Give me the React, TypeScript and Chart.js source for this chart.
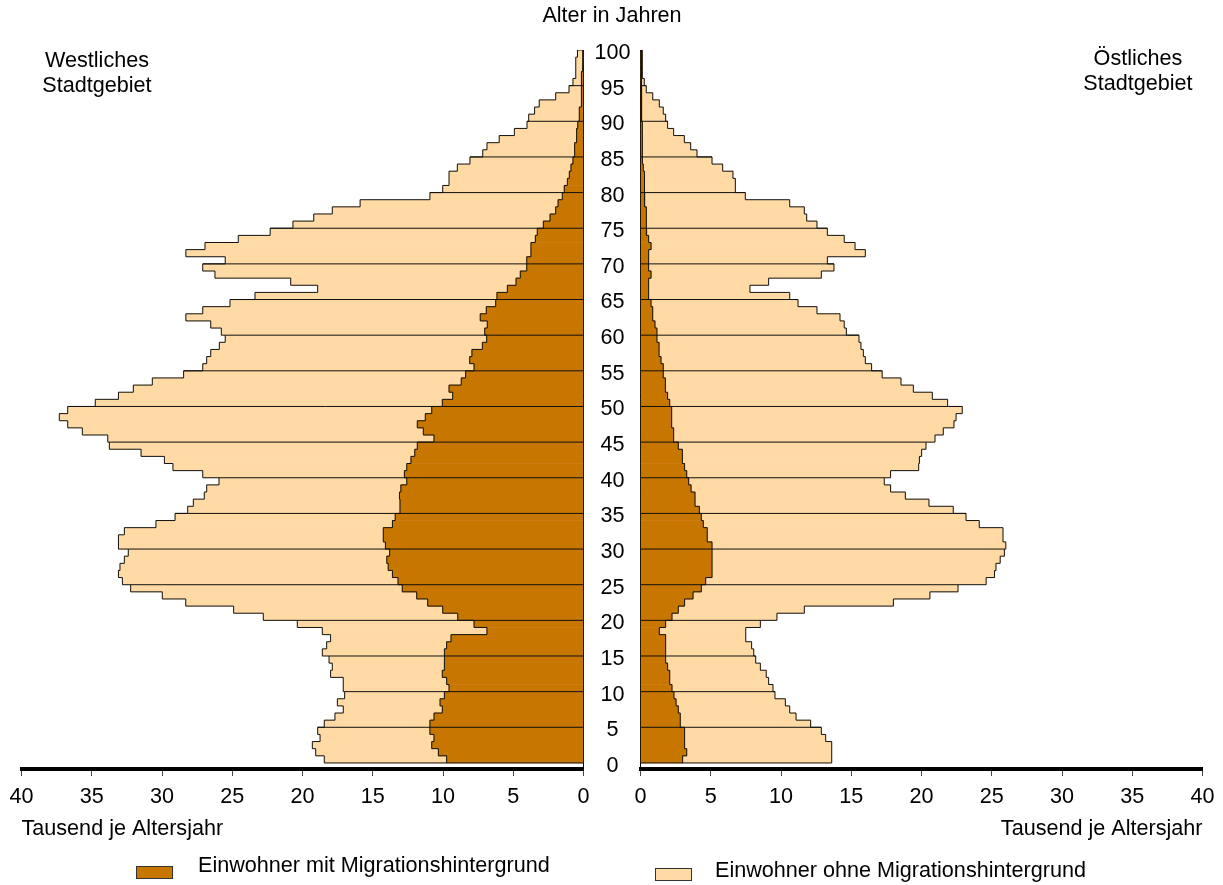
import React, { useEffect, useRef } from "react";
import { Chart, registerables } from "chart.js";

Chart.register(...registerables);

// ---------- data (Tausend Einwohner je Altersjahr, Alter 0 .. 99) ----------
const AGES: number[] = Array.from({ length: 100 }, (_, i) => i);
const AGE_TICKS: number[] = [0, 5, 10, 15, 20, 25, 30, 35, 40, 45, 50, 55, 60, 65, 70, 75, 80, 85, 90, 95, 100];
const VALUE_TICKS: number[] = [0, 5, 10, 15, 20, 25, 30, 35, 40];

// Westliches Stadtgebiet: total population per age
const WEST_TOTAL: number[] = [
  18.45, 19.06, 19.3, 18.75, 18.92,
  18.45, 17.69, 17.1, 17.52, 17.0,
  17.1, 17.1, 18.0, 17.88, 18.11,
  18.59, 18.28, 18.0, 18.59, 20.37,
  22.79, 24.9, 28.31, 29.98, 32.23,
  32.82, 33.1, 32.99, 32.68, 32.4,
  33.1, 33.1, 32.68, 30.43, 29.07,
  28.17, 27.77, 26.99, 26.82, 25.94,
  27.1, 29.22, 29.83, 31.49, 33.75,
  33.86, 35.67, 36.71, 37.31, 36.71,
  34.75, 33.1, 32.04, 30.69, 28.46,
  27.1, 26.82, 26.53, 25.92, 25.5,
  25.78, 26.53, 28.3, 27.1, 25.16,
  23.38, 18.92, 20.84, 26.23, 27.1,
  25.5, 28.3, 26.94, 24.57, 22.3,
  20.68, 19.2, 17.88, 15.9, 10.93,
  10.02, 9.57, 9.57, 8.98, 8.08,
  7.17, 6.87, 6.0, 4.92, 4.02,
  3.9, 3.48, 3.15, 1.98, 1.03,
  0.75, 0.55, 0.55, 0.55, 0.43,
];

// Westliches Stadtgebiet: Einwohner mit Migrationshintergrund
const WEST_MIT: number[] = [
  9.74, 10.33, 10.8, 10.64, 10.93,
  10.93, 10.64, 10.05, 10.21, 9.9,
  9.57, 9.74, 10.05, 9.9, 9.9,
  9.9, 9.74, 9.43, 6.87, 7.79,
  8.95, 10.02, 11.09, 11.87, 12.9,
  13.2, 13.6, 13.9, 14.0, 13.8,
  14.1, 14.25, 14.25, 13.6, 13.4,
  13.06, 13.06, 13.1, 13.0, 12.58,
  12.75, 12.58, 12.28, 12.01, 11.83,
  10.64, 11.4, 11.83, 11.26, 10.8,
  10.05, 9.31, 9.57, 8.7, 8.39,
  7.79, 8.1, 7.94, 7.2, 6.89,
  7.03, 6.85, 7.35, 6.92, 6.25,
  6.16, 5.42, 4.8, 4.5, 4.04,
  4.04, 3.74, 3.74, 3.43, 3.29,
  2.86, 2.38, 1.98, 1.81, 1.51,
  1.37, 1.15, 1.01, 0.89, 0.75,
  0.63, 0.63, 0.49, 0.49, 0.41,
  0.3, 0.3, 0.15, 0.15, 0.15,
  0.15, 0.15, 0.08, 0.05, 0.05,
];

// Östliches Stadtgebiet: total population per age
const EAST_TOTAL: number[] = [
  13.61, 13.61, 13.61, 13.18, 12.87,
  12.11, 11.07, 10.62, 10.31, 9.57,
  9.43, 9.12, 8.95, 8.53, 8.2,
  8.06, 7.91, 7.49, 7.49, 8.53,
  9.71, 11.66, 18.0, 20.6, 22.6,
  24.6, 25.2, 25.3, 25.6, 25.9,
  26.0, 25.8, 25.8, 24.11, 23.17,
  22.26, 20.53, 18.85, 17.8, 17.35,
  17.8, 19.8, 19.85, 20.01, 20.32,
  20.96, 21.55, 22.31, 22.46, 22.9,
  21.86, 20.77, 19.42, 18.54, 17.2,
  16.45, 16.0, 15.86, 15.69, 15.55,
  14.65, 14.5, 14.2, 12.56, 11.21,
  10.62, 7.79, 9.12, 12.87, 13.77,
  13.3, 16.0, 15.27, 14.5, 13.3,
  12.56, 11.83, 11.66, 10.62, 7.46,
  6.75, 6.75, 6.58, 5.85, 5.09,
  4.02, 3.57, 3.12, 2.36, 1.93,
  1.79, 1.62, 1.34, 0.87, 0.41,
  0.27, 0.13, 0.13, 0.13, 0.13,
];

// Östliches Stadtgebiet: Einwohner mit Migrationshintergrund
const EAST_MIT: number[] = [
  3.0, 3.29, 3.14, 3.14, 3.14,
  2.83, 2.83, 2.69, 2.53, 2.38,
  2.24, 2.08, 2.08, 1.93, 1.79,
  1.79, 1.79, 1.79, 1.34, 1.79,
  2.24, 2.69, 3.14, 3.74, 4.33,
  4.64, 5.09, 5.09, 5.09, 5.09,
  5.09, 4.75, 4.75, 4.47, 4.33,
  4.19, 3.88, 3.88, 3.6, 3.43,
  3.29, 3.14, 2.98, 2.98, 2.69,
  2.36, 2.36, 2.22, 2.22, 2.22,
  2.08, 1.93, 1.77, 1.77, 1.62,
  1.62, 1.46, 1.32, 1.32, 1.17,
  1.17, 1.03, 0.87, 0.87, 0.75,
  0.58, 0.58, 0.58, 0.75, 0.58,
  0.58, 0.58, 0.75, 0.58, 0.46,
  0.41, 0.41, 0.41, 0.32, 0.32,
  0.27, 0.27, 0.27, 0.2, 0.15,
  0.13, 0.13, 0.13, 0.13, 0.13,
  0.1, 0.1, 0.1, 0.1, 0.1,
  0.05, 0.05, 0.05, 0.05, 0.05,
];

const LABEL_MIT = "Einwohner mit Migrationshintergrund";
const LABEL_OHNE = "Einwohner ohne Migrationshintergrund";
const AXIS_TITLE = "Tausend je Altersjahr";

// ---------- styles ----------
const FONT_FAMILY = '"Liberation Sans", Arial, Helvetica, sans-serif';
const FS = 21.6;
const BROWN = "#C77700";
const BEIGE = "#FFDAA5";
const LINE = "#111111";

type Pt = { x: number | null; y: number | null };

// s = -1 mirrors the west side to the left of its zero line
function outline(values: number[], closed: boolean, s: number): Pt[] {
  const pts: Pt[] = [];
  if (closed) pts.push({ x: 0, y: AGES[0] });
  values.forEach((v, i) => {
    pts.push({ x: s * v, y: AGES[i] });
    pts.push({ x: s * v, y: AGES[i] + 1 });
  });
  if (closed) pts.push({ x: 0, y: AGES[AGES.length - 1] + 1 });
  return pts;
}

function fiveYearLines(total: number[], s: number): Pt[] {
  const pts: Pt[] = [];
  AGE_TICKS.filter((t) => t > 0 && t < 100).forEach((t) => {
    pts.push({ x: 0, y: t });
    pts.push({ x: s * total[t - 1], y: t });
    pts.push({ x: null, y: null });
  });
  return pts;
}

function buildConfig(mit: number[], total: number[], west: boolean): any {
  const s = west ? -1 : 1;
  const font = { family: FONT_FAMILY, size: FS };
  const lineDs = (data: Pt[]) => ({
    type: "line",
    data,
    borderColor: LINE,
    borderWidth: 1,
    pointRadius: 0,
    pointHoverRadius: 0,
    fill: false,
    spanGaps: false,
    tension: 0,
    order: 0,
  });
  return {
    type: "bar",
    data: {
      datasets: [
        lineDs(fiveYearLines(total, s)),
        lineDs(outline(total, true, s)),
        lineDs(outline(mit, false, s)),
        {
          label: LABEL_MIT,
          data: AGES.map((a, i) => ({ x: [0, s * mit[i]], y: a + 0.5 })),
          backgroundColor: BROWN,
          borderWidth: 0,
          grouped: false,
          barPercentage: 1,
          categoryPercentage: 1,
          order: 1,
        },
        {
          label: LABEL_OHNE,
          data: AGES.map((a, i) => ({ x: [s * mit[i], s * total[i]], y: a + 0.5 })),
          backgroundColor: BEIGE,
          borderWidth: 0,
          grouped: false,
          barPercentage: 1,
          categoryPercentage: 1,
          order: 1,
        },
      ],
    },
    options: {
      responsive: false,
      maintainAspectRatio: false,
      animation: false,
      events: [],
      indexAxis: "y",
      layout: {
        padding: west
          ? { left: 21.5, right: 59.5, top: 50, bottom: 43 }
          : { left: 40.5, right: 20.5, top: 50, bottom: 43 },
      },
      plugins: {
        legend: { display: false },
        tooltip: { enabled: false },
        title: { display: false },
      },
      scales: {
        x: {
          type: "linear",
          min: west ? -40 : 0,
          max: west ? 0 : 40,
          afterBuildTicks: (sc: any) => {
            sc.ticks = VALUE_TICKS.map((v) => ({ value: s * v }));
          },
          afterFit: (sc: any) => {
            sc.height = 73;
          },
          grid: {
            drawOnChartArea: false,
            drawTicks: true,
            tickLength: 7,
            tickColor: "#444",
            tickWidth: 1,
          },
          border: { display: true, color: "#000", width: 4 },
          ticks: {
            font,
            color: "#000",
            padding: 8,
            autoSkip: false,
            maxRotation: 0,
            callback: (v: number) => String(Math.abs(v)),
          },
          title: {
            display: true,
            text: AXIS_TITLE,
            align: west ? "start" : "end",
            font,
            color: "#000",
            padding: { top: 0, bottom: 0 },
          },
        },
        y: {
          type: "linear",
          position: west ? "right" : "left",
          min: -0.85,
          max: 100,
          offset: false,
          afterBuildTicks: (sc: any) => {
            sc.ticks = AGE_TICKS.map((v) => ({ value: v }));
          },
          afterFit: (sc: any) => {
            sc.width = west ? 57 : 0;
          },
          grid: { display: false, drawTicks: false, offset: false },
          border: { display: true, color: "#000", width: 1 },
          ticks: {
            display: west,
            font,
            color: "#000",
            padding: 11,
            crossAlign: "center",
            labelOffset: 3,
            autoSkip: false,
          },
        },
      },
    },
  };
}

const textStyle: React.CSSProperties = {
  position: "absolute",
  fontSize: FS,
  lineHeight: "25px",
  whiteSpace: "nowrap",
  color: "#000",
};

export default function App() {
  const leftRef = useRef<HTMLCanvasElement>(null);
  const rightRef = useRef<HTMLCanvasElement>(null);

  useEffect(() => {
    Chart.defaults.font.family = FONT_FAMILY;
    const left = new Chart(leftRef.current as HTMLCanvasElement, buildConfig(WEST_MIT, WEST_TOTAL, true));
    const right = new Chart(rightRef.current as HTMLCanvasElement, buildConfig(EAST_MIT, EAST_TOTAL, false));
    return () => {
      left.destroy();
      right.destroy();
    };
  }, []);

  return (
    <div
      style={{
        position: "absolute",
        left: 0,
        top: 0,
        width: 1223,
        height: 885,
        background: "#fff",
        overflow: "hidden",
        fontFamily: FONT_FAMILY,
      }}
    >
      <canvas
        ref={leftRef}
        width={700}
        height={885}
        style={{ position: "absolute", left: 0, top: 0, width: 700, height: 885 }}
      />
      <canvas
        ref={rightRef}
        width={623}
        height={885}
        style={{ position: "absolute", left: 600, top: 0, width: 623, height: 885 }}
      />
      <div style={{ ...textStyle, left: 462, width: 300, top: 2, textAlign: "center" }}>Alter in Jahren</div>
      <div style={{ ...textStyle, left: 0, width: 194, top: 47, textAlign: "center" }}>
        Westliches
        <br />
        Stadtgebiet
      </div>
      <div style={{ ...textStyle, left: 1040, width: 196, top: 45, textAlign: "center" }}>
        Östliches
        <br />
        Stadtgebiet
      </div>
      <div
        style={{
          position: "absolute",
          left: 136,
          top: 866,
          width: 37,
          height: 13,
          boxSizing: "border-box",
          background: BROWN,
          border: "1px solid #333",
        }}
      />
      <div style={{ ...textStyle, left: 198, top: 852 }}>{LABEL_MIT}</div>
      <div
        style={{
          position: "absolute",
          left: 655,
          top: 868,
          width: 37,
          height: 13,
          boxSizing: "border-box",
          background: BEIGE,
          border: "1px solid #333",
        }}
      />
      <div style={{ ...textStyle, left: 715, top: 857 }}>{LABEL_OHNE}</div>
    </div>
  );
}
